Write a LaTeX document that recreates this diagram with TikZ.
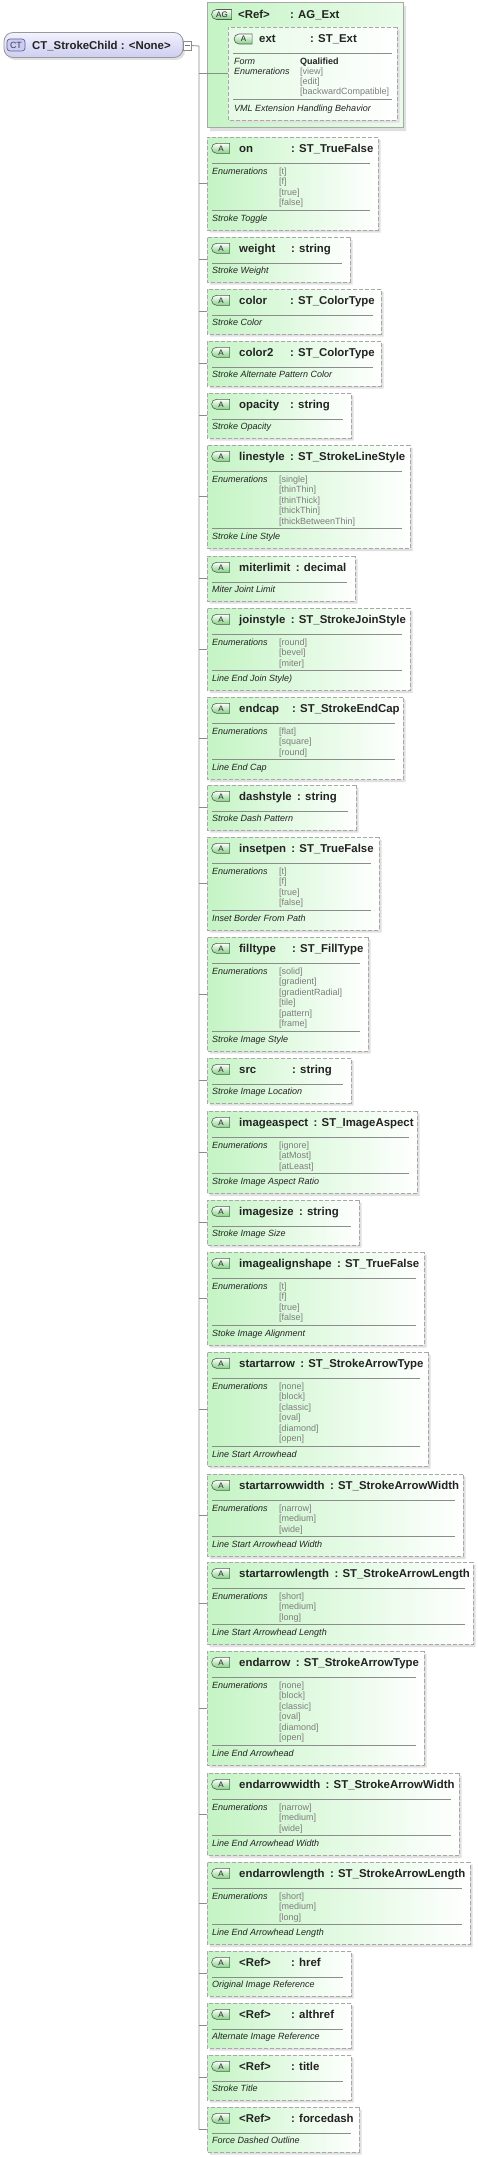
\documentclass[tikz,border=0pt]{standalone}
\usepackage{fontspec}
\setmainfont{Liberation Sans}
\usetikzlibrary{shapes.misc,shadows,calc}
\definecolor{attgreen}{RGB}{196,244,196}
\definecolor{icongreen}{RGB}{130,210,130}
\definecolor{bordergrey}{RGB}{168,168,168}
\definecolor{valgrey}{RGB}{125,125,125}
\definecolor{ctlight}{RGB}{242,242,255}
\definecolor{ctdark}{RGB}{205,205,240}
\definecolor{ctborder}{RGB}{95,95,160}
\definecolor{txt}{RGB}{35,35,35}
\tikzset{
  abox/.style={chamfered rectangle, chamfered rectangle corners={north west,south west},
    chamfered rectangle xsep=5.5pt, chamfered rectangle ysep=5.5pt,
    draw=bordergrey, dash pattern=on 4pt off 2pt, line width=0.8pt,
    left color=attgreen, right color=white, inner sep=0pt,
    general shadow={fill=black!12, shadow xshift=2.5pt, shadow yshift=-2.5pt}},
  agbox/.style={chamfered rectangle, chamfered rectangle corners={north west,south west},
    chamfered rectangle xsep=8pt, chamfered rectangle ysep=8pt,
    draw=bordergrey, line width=0.8pt,
    left color=attgreen, right color=attgreen!35!white, inner sep=0pt,
    general shadow={fill=black!12, shadow xshift=3pt, shadow yshift=-3.5pt}},
  extbox/.style={abox, left color=attgreen!45!white, right color=white},
  ctbox/.style={rectangle, rounded corners=9pt, draw=black!40, line width=0.8pt,
    top color=ctlight, bottom color=ctdark, inner sep=0pt,
    general shadow={fill=black!12, shadow xshift=2pt, shadow yshift=-2.5pt}},
  aicon/.style={rounded rectangle, rounded rectangle right arc=none, draw=black!65,
    line width=0.6pt, top color=white, bottom color=icongreen, minimum width=18pt,
    minimum height=10pt, inner sep=0pt, font=\fontsize{8}{8}\selectfont, text=txt},
  cticon/.style={rectangle, rounded corners=3pt, draw=ctborder, line width=0.7pt,
    fill=ctdark, minimum width=18pt, minimum height=12pt, inner sep=0pt,
    font=\fontsize{9}{9}\selectfont, text=ctborder!60!black},
  hname/.style={font=\fontsize{11.4}{13}\bfseries, text=txt, anchor=base west, inner sep=0pt},
  lbl/.style={font=\fontsize{9}{11}\itshape, text=txt, anchor=base west, inner sep=0pt},
  bval/.style={font=\fontsize{9}{11}\bfseries, text=txt, anchor=base west, inner sep=0pt},
  val/.style={font=\fontsize{9}{11}\selectfont, text=valgrey, anchor=base west, inner sep=0pt},
  sepline/.style={draw=black!45, line width=0.6pt},
  conn/.style={draw=black!45, line width=0.8pt},
}
\newcommand\hdr[6]{%
  \node[aicon] (#1-i) at (221,#2+11.3) {#6};
  \node[hname] (#1-n) at (239,#2+15) {#4};
  \path let \p1=(#1-n.base east) in node[hname] (#1-t) at ({max(#3,\x1+5)},\y1) {: #5};
}
\newcommand\simplebox[7]{%
  \node[abox, minimum width={#3-207}, minimum height=45] (#1) at ({(207+#3)/2},#2+22.5) {};
  \hdr{#1}{#2}{#4}{#5}{#6}{A}
  \draw[sepline] (212,#2+26) -- (#3-8,#2+26);
  \node[lbl] (#1-d) at (212,#2+36.3) {#7};
  \draw[conn] (vx|-#1.west) -- (#1.west);
}
\newcommand\enumbox[9]{%
  \pgfmathsetmacro\bh{61.5+10.5*(#7-1)}
  \node[abox, minimum width={#3-207}, minimum height=\bh] (#1) at ({(207+#3)/2},#2+\bh/2) {};
  \hdr{#1}{#2}{#4}{#5}{#6}{A}
  \draw[sepline] (212,#2+26) -- (#3-8,#2+26);
  \node[lbl] (#1-e) at (212,#2+37.3) {Enumerations};
  \foreach \v [count=\k] in {#8} {\node[val] (#1-v\k) at (279,#2+26.8+10.5*\k) {[\v]};}
  \draw[sepline] (212,#2+\bh-20) -- (#3-8,#2+\bh-20);
  \node[lbl] (#1-d) at (212,#2+\bh-8.7) {#9};
  \draw[conn] (vx|-#1.west) -- (#1.west);
}
\begin{document}
\begin{tikzpicture}[x=1pt,y=-1pt]
\useasboundingbox (0,0) rectangle (477,2157);
\coordinate (vx) at (199,46);
% root
\node[ctbox, minimum width=179, minimum height=25] (ct) at (93.5,45) {};
\node[cticon] (ct-i) at (16,45) {CT};
\node[hname] (ct-n) at (32,49) {CT\_StrokeChild : <None>};
\node[draw=black!45, fill=white, line width=0.6pt, minimum width=8, minimum height=9, inner sep=0pt] (ct-x) at (187,45.5) {};
\draw[black!55, line width=0.6pt] (ct-x.west) ++(1.8,0) -- ([xshift=-1.8pt]ct-x.east);
% attribute group
\node[agbox, minimum width=196, minimum height=125] (ag) at (305,65) {};
\node[aicon, minimum width=20pt] (ag-i) at (222,14.5) {AG};
\node[hname] (ag-n) at (238,18.5) {<Ref>};
\node[hname] (ag-t) at (290,18.5) {: AG\_Ext};
\node[extbox, minimum width=169, minimum height=93] (ext) at (312.5,73.5) {};
\node[aicon] (ext-i) at (243.5,39) {A};
\node[hname] (ext-n) at (259,43) {ext};
\node[hname] (ext-t) at (310,43) {: ST\_Ext};
\draw[sepline] (233,53) -- (392,53);
\node[lbl] (ext-f) at (234,64.3) {Form};
\node[bval] (ext-q) at (300,64.3) {Qualified};
\node[lbl] (ext-e) at (234,74.3) {Enumerations};
\node[val] (ext-v1) at (300,74.3) {[view]};
\node[val] (ext-v2) at (300,84.3) {[edit]};
\node[val] (ext-v3) at (300,94.3) {[backwardCompatible]};
\draw[sepline] (233,99.5) -- (392,99.5);
\node[lbl] (ext-d) at (234,111.3) {VML Extension Handling Behavior};
\draw[conn] (vx|-ext.west) -- (ext.west);
% attributes
\enumbox{a-on}{137}{378}{291}{on}{ST\_TrueFalse}{4}{t,f,true,false}{Stroke Toggle}
\simplebox{a-weight}{237}{350}{291}{weight}{string}{Stroke Weight}
\simplebox{a-color}{289}{381}{290}{color}{ST\_ColorType}{Stroke Color}
\simplebox{a-color2}{341}{381}{290}{color2}{ST\_ColorType}{Stroke Alternate Pattern Color}
\simplebox{a-opacity}{393}{351}{290}{opacity}{string}{Stroke Opacity}
\enumbox{a-linestyle}{445}{410}{290}{linestyle}{ST\_StrokeLineStyle}{5}{single,thinThin,thinThick,thickThin,thickBetweenThin}{Stroke Line Style}
\simplebox{a-miterlimit}{556}{355}{290}{miterlimit}{decimal}{Miter Joint Limit}
\enumbox{a-joinstyle}{608}{410}{290}{joinstyle}{ST\_StrokeJoinStyle}{3}{round,bevel,miter}{Line End Join Style)}
\enumbox{a-endcap}{697}{403}{292}{endcap}{ST\_StrokeEndCap}{3}{flat,square,round}{Line End Cap}
\simplebox{a-dashstyle}{785}{356}{290}{dashstyle}{string}{Stroke Dash Pattern}
\enumbox{a-insetpen}{837}{379}{290}{insetpen}{ST\_TrueFalse}{4}{t,f,true,false}{Inset Border From Path}
\enumbox{a-filltype}{937}{368}{292}{filltype}{ST\_FillType}{6}{solid,gradient,gradientRadial,tile,pattern,frame}{Stroke Image Style}
\simplebox{a-src}{1058}{351}{292}{src}{string}{Stroke Image Location}
\enumbox{a-imageaspect}{1111}{417}{290}{imageaspect}{ST\_ImageAspect}{3}{ignore,atMost,atLeast}{Stroke Image Aspect Ratio}
\simplebox{a-imagesize}{1200}{359}{290}{imagesize}{string}{Stroke Image Size}
\enumbox{a-imagealignshape}{1252}{424}{290}{imagealignshape}{ST\_TrueFalse}{4}{t,f,true,false}{Stoke Image Alignment}
\enumbox{a-startarrow}{1352}{428}{290}{startarrow}{ST\_StrokeArrowType}{6}{none,block,classic,oval,diamond,open}{Line Start Arrowhead}
\enumbox{a-startarrowwidth}{1474}{463}{290}{startarrowwidth}{ST\_StrokeArrowWidth}{3}{narrow,medium,wide}{Line Start Arrowhead Width}
\enumbox{a-startarrowlength}{1562}{473}{290}{startarrowlength}{ST\_StrokeArrowLength}{3}{short,medium,long}{Line Start Arrowhead Length}
\enumbox{a-endarrow}{1651}{424}{290}{endarrow}{ST\_StrokeArrowType}{6}{none,block,classic,oval,diamond,open}{Line End Arrowhead}
\enumbox{a-endarrowwidth}{1773}{459}{290}{endarrowwidth}{ST\_StrokeArrowWidth}{3}{narrow,medium,wide}{Line End Arrowhead Width}
\enumbox{a-endarrowlength}{1862}{470}{290}{endarrowlength}{ST\_StrokeArrowLength}{3}{short,medium,long}{Line End Arrowhead Length}
\simplebox{a-href}{1951}{351}{291}{<Ref>}{href}{Original Image Reference}
\simplebox{a-althref}{2003}{351}{291}{<Ref>}{althref}{Alternate Image Reference}
\simplebox{a-title}{2055}{351}{291}{<Ref>}{title}{Stroke Title}
\simplebox{a-forcedash}{2107}{359}{291}{<Ref>}{forcedash}{Force Dashed Outline}
% main spine
\draw[conn] (ct-x.east) -- (vx) -- (vx|-a-forcedash.west);
\end{tikzpicture}
\end{document}
